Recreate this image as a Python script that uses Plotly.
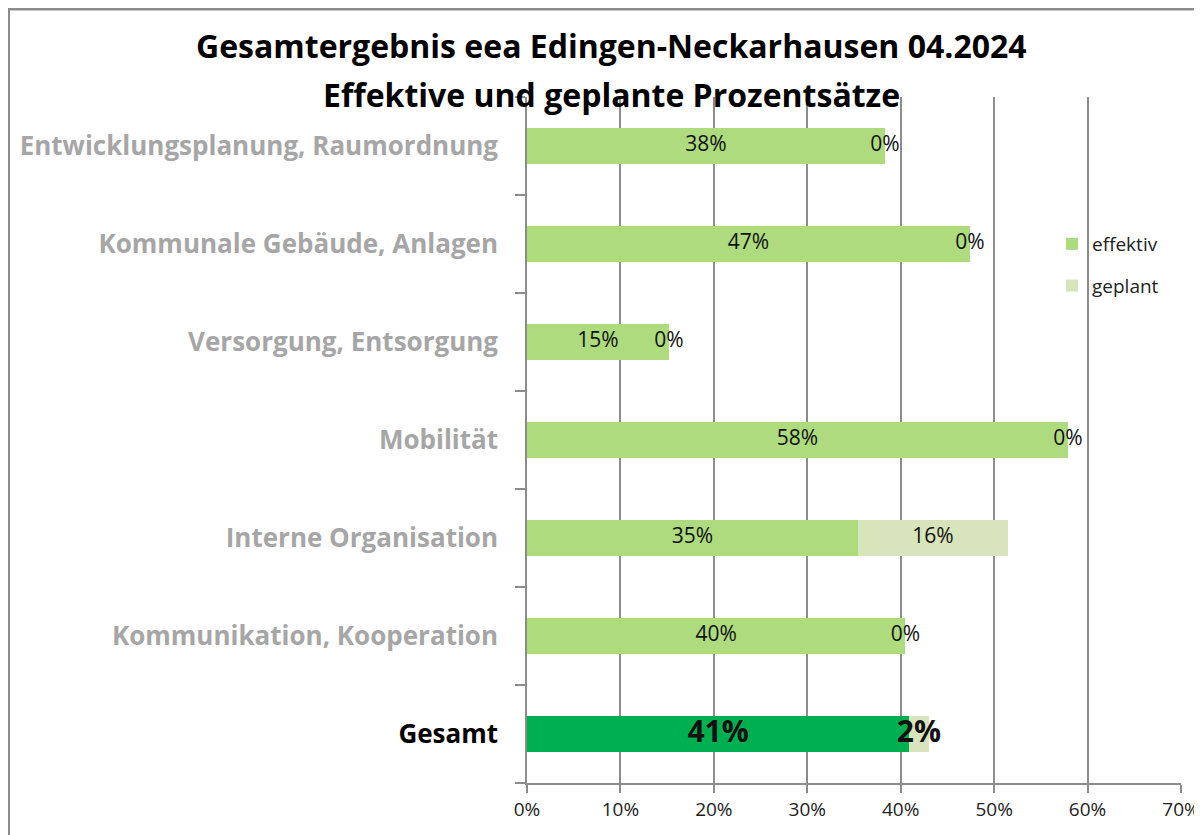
import plotly.graph_objects as go

# categories top to bottom
kategorien = [
    "Entwicklungsplanung, Raumordnung",
    "Kommunale Gebäude, Anlagen",
    "Versorgung, Entsorgung",
    "Mobilität",
    "Interne Organisation",
    "Kommunikation, Kooperation",
    "Gesamt",
]
effektiv = [38.3, 47.4, 15.2, 57.9, 35.4, 40.5, 40.9]
geplant = [0.0, 0.0, 0.0, 0.0, 16.1, 0.0, 2.1]
x_ticks = [0, 10, 20, 30, 40, 50, 60, 70]

HELL = "#ADDB7E"
GEPLANT = "#D8E4BC"
GESAMT = "#00B050"
GRAU = "#A6A6A6"
FONT = "Open Sans"

# page has an 8px body margin, so work in page pixels and shift
OFF = 8
W, H = 1202 - OFF, 835 - OFF
L, R, T, B = 527 - OFF, 1181 - OFF, 97 - OFF, 783 - OFF

def px_x(p):
    return (p - OFF - L) / (R - L)

def px_y(p):
    return (B - (p - OFF)) / (B - T)

eff_colors = [HELL] * (len(kategorien) - 1) + [GESAMT]

fig = go.Figure()
fig.add_trace(go.Bar(
    y=kategorien, x=effektiv, orientation="h", name="effektiv",
    marker=dict(color=eff_colors, line=dict(width=0)),
    legendgroup="a", hoverinfo="skip",
))
fig.add_trace(go.Bar(
    y=kategorien, x=geplant, orientation="h", name="geplant",
    marker=dict(color=GEPLANT, line=dict(width=0)),
    legendgroup="b", hoverinfo="skip",
))

# data labels, centred on each segment
lab_x, lab_y, lab_t, lab_s = [], [], [], []
for k, e, g in zip(kategorien, effektiv, geplant):
    big = k == "Gesamt"
    for xc, v in ((e / 2, e), (e + g / 2, g)):
        lab_x.append(xc)
        lab_y.append(k)
        t = f"{round(v):d}%"
        lab_t.append(f"<b>{t}</b>" if big else t)
        lab_s.append(30 if big else 21)
fig.add_trace(go.Scatter(
    x=lab_x, y=lab_y, mode="text", text=lab_t,
    textfont=dict(family=FONT, size=lab_s, color="#111111"),
    showlegend=False, hoverinfo="skip",
))

ticktext = []
for k in kategorien:
    if k == "Gesamt":
        ticktext.append(f"<b><span style='color:#000000'>{k}</span></b>")
    else:
        ticktext.append(f"<b>{k}</b>")

fig.update_layout(
    width=W, height=H,
    barmode="stack", bargap=0.63,
    plot_bgcolor="white", paper_bgcolor="white",
    margin=dict(l=L, r=W - R, t=T, b=H - B, autoexpand=False),
    font=dict(family=FONT, color="#222222"),
    legend=dict(
        x=px_x(1052), y=px_y(225), xanchor="left", yanchor="top",
        font=dict(family=FONT, size=19, color="#222222"),
        bgcolor="rgba(0,0,0,0)", tracegroupgap=14,
        itemwidth=30,
    ),
    xaxis=dict(
        range=[0, 70], tickvals=x_ticks,
        ticktext=[f"{v}%" for v in x_ticks],
        tickfont=dict(family=FONT, size=19, color="#222222"),
        showgrid=True, gridcolor="#8C8C8C", gridwidth=1.5,
        showline=True, linecolor="#8C8C8C", linewidth=1.5,
        ticks="outside", ticklen=8, tickcolor="#8C8C8C", tickwidth=1.5,
        zeroline=False, fixedrange=True,
    ),
    yaxis=dict(
        categoryorder="array", categoryarray=kategorien,
        autorange="reversed",
        tickvals=kategorien, ticktext=ticktext,
        tickfont=dict(family=FONT, size=26, color=GRAU),
        showline=True, linecolor="#8C8C8C", linewidth=1.5,
        ticks="outside", tickson="boundaries", ticklen=10,
        tickcolor="#8C8C8C", tickwidth=1.5, ticklabelstandoff=22,
        showgrid=False, fixedrange=True,
    ),
    annotations=[
        dict(text="<b>Gesamtergebnis eea Edingen-Neckarhausen 04.2024</b>",
             x=px_x(611), y=px_y(46), xref="paper", yref="paper",
             xanchor="center", yanchor="middle",
             showarrow=False, font=dict(family=FONT, size=32, color="#000000")),
        dict(text="<b>Effektive und geplante Prozentsätze</b>",
             x=px_x(611), y=px_y(94), xref="paper", yref="paper",
             xanchor="center", yanchor="middle",
             showarrow=False, font=dict(family=FONT, size=32, color="#000000")),
    ],
    shapes=[
        dict(type="line", xref="paper", yref="paper",
             x0=px_x(OFF), x1=px_x(1202), y0=px_y(OFF + 1), y1=px_y(OFF + 1),
             line=dict(color="#8C8C8C", width=3)),
        dict(type="line", xref="paper", yref="paper",
             x0=px_x(OFF + 1), x1=px_x(OFF + 1), y0=px_y(OFF), y1=px_y(840),
             line=dict(color="#8C8C8C", width=2)),
    ],
)

fig.write_html("out.html")
